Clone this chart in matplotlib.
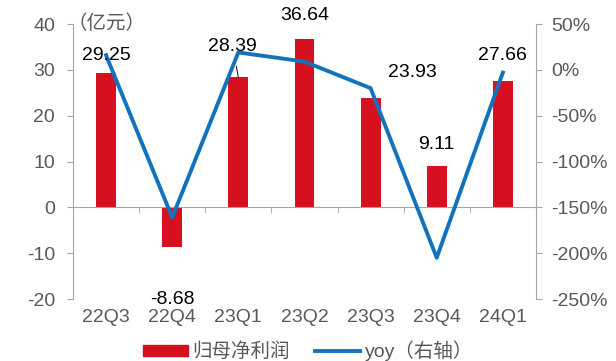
import matplotlib
matplotlib.use("Agg")
import matplotlib.pyplot as plt
from matplotlib.patches import Patch
from matplotlib.lines import Line2D

plt.rcParams['font.family'] = ['Liberation Sans', 'Noto Sans CJK SC', 'DejaVu Sans']
plt.rcParams['axes.unicode_minus'] = False

categories = ["22Q3", "22Q4", "23Q1", "23Q2", "23Q3", "23Q4", "24Q1"]
profit = [29.25, -8.68, 28.39, 36.64, 23.93, 9.11, 27.66]
yoy = [16, -161, 19, 9, -20, -205, -3]
left_ticks = [-20, -10, 0, 10, 20, 30, 40]
right_ticks = [-250, -200, -150, -100, -50, 0, 50]

RED = "#D7101F"
BLUE = "#1372BE"
GRAY = "#A6A6A6"
TXT = "#595959"
FS = 14

fig = plt.figure(figsize=(6.16, 3.61), dpi=100)
ax = fig.add_axes([0.1185, 0.1717, 0.7515, 0.7618])
x = list(range(len(categories)))
ax.bar(x, profit, width=0.3, color=RED, zorder=2)
ax.set_xlim(-0.5, len(categories) - 0.5)
ax.set_ylim(-20, 40)
ax.set_yticks(left_ticks)
ax.tick_params(axis='y', colors=GRAY, labelcolor=TXT, labelsize=FS, length=4, direction='out', pad=9)
for s in ['top', 'right']:
    ax.spines[s].set_visible(False)
ax.spines['left'].set_color(GRAY)
ax.spines['bottom'].set_position(('data', 0))
ax.spines['bottom'].set_color(GRAY)
ax.set_xticks([i + 0.5 for i in x[:-1]], minor=True)
ax.set_xticks([])
ax.tick_params(axis='x', which='minor', colors=GRAY, length=4, direction='out')

sec = ax.secondary_xaxis(0)
sec.set_xticks(x)
sec.set_xticklabels(categories)
sec.spines['bottom'].set_visible(False)
sec.tick_params(axis='x', length=0, labelsize=FS, labelcolor=TXT, pad=7)

ax2 = ax.twinx()
ax2.plot(x, yoy, color=BLUE, lw=2.8, zorder=3)
ax2.set_ylim(-250, 50)
ax2.set_yticks(right_ticks)
ax2.set_yticklabels([f"{v}%" for v in right_ticks])
ax2.tick_params(axis='y', colors=GRAY, labelcolor=TXT, labelsize=FS, length=4, direction='out', pad=7)
for s in ['top', 'left', 'bottom']:
    ax2.spines[s].set_visible(False)
ax2.spines['right'].set_color(GRAY)

# data labels
offsets = {0: (0, 13), 1: (0, -38), 2: (-4, 22), 3: (0, 17), 4: (30, 18), 5: (0, 15), 6: (0, 18)}
for i, v in enumerate(profit):
    dx, dy = offsets[i]
    kw = {}
    if i == 2:
        kw['arrowprops'] = dict(arrowstyle='-', color='black', lw=0.7, shrinkA=6, shrinkB=0)
    ax2.annotate(f"{v:.2f}", xy=(i, v), xycoords=ax.transData, xytext=(dx, dy),
                 textcoords='offset points', ha='center', va='center', fontsize=FS,
                 color='black', zorder=5, **kw)

ax.text(-0.012, 1.0, "（亿元）", transform=ax.transAxes, ha='left', va='center', fontsize=FS, color=TXT)

handles = [Patch(color=RED), Line2D([], [], color=BLUE, lw=2.8)]
fig.legend(handles, ["归母净利润", "yoy（右轴）"], loc='center', bbox_to_anchor=(0.5, 0.028),
           ncol=2, frameon=False, fontsize=FS, labelcolor=TXT, handlelength=2.3,
           handleheight=0.45, columnspacing=1.3, handletextpad=0.25)

fig.savefig("out.png", dpi=100)
